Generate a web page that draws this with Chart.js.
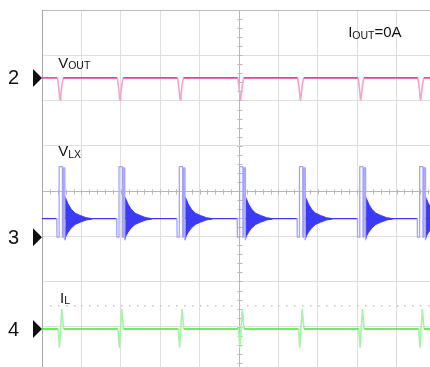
<!DOCTYPE html>
<html>
<head>
<meta charset="utf-8">
<script src="https://cdn.jsdelivr.net/npm/chart.js@4.4.1/dist/chart.umd.min.js"></script>
<style>
  html, body { margin: 0; padding: 0; overflow: hidden; background: #fff; }
  canvas { display: block; }
</style>
</head>
<body>
<canvas id="scope" width="440" height="380"></canvas>
<script>
// Time of each switching burst, in screen divisions
const pulseTimes = [0.46, 1.98, 3.51, 5.04, 6.56, 8.09, 9.61];

// Channel 2: output voltage (divisions), dip around each burst
const voutBase = 2.5;
const voutDipDt = [-0.069, -0.038, -0.010, 0, 0.015, 0.046, 0.081];
const voutDipV = [2.5, 2.3, 2.05, 2.01, 2.1, 2.35, 2.5];

// Channel 3: switch node, two short pulses then ringing
const vlxBase = -0.61;
const vlxEdgeDt = [-0.086, -0.081, -0.025, -0.025, 0.058, 0.058, 0.084, 0.084, 0.119, 0.119, 0.127];
const vlxEdgeV = [-0.61, -1.02, -1.02, 0.54, 0.54, -1.02, -1.02, 0.51, 0.51, -1.08, -0.61];
const ringDt = [0.119, 0.152, 0.203, 0.279, 0.381, 0.508, 0.66, 0.812];
const ringHigh = [-0.13, -0.18, -0.29, -0.40, -0.49, -0.54, -0.59, -0.61];
const ringLow = [-1.08, -0.99, -0.91, -0.82, -0.74, -0.69, -0.64, -0.62];

// Channel 4: inductor current spike
const ilBase = -3.05;
const ilSpikeDt = [-0.051, -0.018, 0.043, 0.089];
const ilSpikeV = [-3.05, -3.45, -2.62, -3.05];

// Ground markers on the left edge
const markerNames = ['2', '3', '4'];
const markerLevels = [2.5, -1.02, -3.05];

function buildTrace(base, dt, vals) {
    const pts = [{ x: 0, y: base }];
    pulseTimes.forEach(t0 => {
        dt.forEach((d, i) => pts.push({ x: t0 + d, y: vals[i] }));
    });
    pts.push({ x: 10, y: base });
    return pts;
}

// fast edges show up faint on the screen
function edgeColor(dark, light) {
    return ctx => Math.abs(ctx.p1.x - ctx.p0.x) < 6 ? light : dark;
}

const PINK = '#ee3d96', PINK_LT = '#f6a3cb';
const BLUE = '#3b3bf6', BLUE_LT = '#a4a4ff';
const GREEN = '#3ee63e', GREEN_LT = '#a6f2a6';

const datasets = [
    {
        data: buildTrace(voutBase, voutDipDt, voutDipV),
        borderColor: PINK, borderWidth: 1.6,
        segment: { borderColor: edgeColor(PINK, PINK_LT) }
    },
    {
        data: buildTrace(vlxBase, vlxEdgeDt, vlxEdgeV),
        borderColor: BLUE, borderWidth: 1.3,
        segment: { borderColor: edgeColor(BLUE, BLUE_LT) }
    },
    {
        data: buildTrace(ilBase, ilSpikeDt, ilSpikeV),
        borderColor: GREEN, borderWidth: 1.6,
        segment: { borderColor: edgeColor(GREEN, GREEN_LT) }
    }
];

// ringing envelope after each pulse, filled between top and bottom
pulseTimes.forEach(t0 => {
    datasets.push({
        data: ringDt.map((d, i) => ({ x: t0 + d, y: ringHigh[i] })),
        borderColor: BLUE, borderWidth: 1, fill: false
    });
    datasets.push({
        data: ringDt.map((d, i) => ({ x: t0 + d, y: ringLow[i] })),
        borderColor: BLUE, borderWidth: 1, fill: '-1',
        backgroundColor: BLUE
    });
});

const FONT = '"Liberation Sans", Arial, sans-serif';

// label with a subscript part, e.g. V + OUT
function subLabel(ctx, x, y, main, sub, rest) {
    ctx.font = '15px ' + FONT;
    ctx.fillText(main, x, y);
    x += ctx.measureText(main).width;
    ctx.font = '10.5px ' + FONT;
    ctx.fillText(sub, x, y + 1.5);
    x += ctx.measureText(sub).width;
    if (rest) {
        ctx.font = '15px ' + FONT;
        ctx.fillText(rest, x, y);
    }
}

const scopeDecor = {
    id: 'scopeDecor',
    beforeDatasetsDraw(chart) {
        const { ctx, scales: { x, y } } = chart;
        ctx.save();
        ctx.strokeStyle = '#b8b8b8';
        ctx.lineWidth = 1;
        ctx.beginPath();
        // minor ticks on the centre cross
        for (let v = 0.2; v < 10; v += 0.2) {
            const px = Math.round(x.getPixelForValue(v)) + 0.5;
            const py = Math.round(y.getPixelForValue(0)) + 0.5;
            ctx.moveTo(px, py - 2);
            ctx.lineTo(px, py + 3);
        }
        for (let v = -4; v < 4; v += 0.2) {
            const py = Math.round(y.getPixelForValue(v)) + 0.5;
            const px = Math.round(x.getPixelForValue(5)) + 0.5;
            ctx.moveTo(px - 2, py);
            ctx.lineTo(px + 3, py);
        }
        ctx.stroke();
        // dotted reference row
        ctx.fillStyle = '#c4c4c4';
        const rowY = Math.round(y.getPixelForValue(-2.52));
        for (let v = 0.2; v < 10.2; v += 0.2) {
            ctx.fillRect(Math.round(x.getPixelForValue(v)), rowY, 1.5, 1.5);
        }
        ctx.restore();
    },
    afterDraw(chart) {
        const { ctx, scales: { x, y }, chartArea } = chart;
        ctx.save();
        ctx.fillStyle = '#111';
        // channel markers
        markerNames.forEach((name, i) => {
            const py = y.getPixelForValue(markerLevels[i]);
            ctx.beginPath();
            ctx.moveTo(chartArea.left, py);
            ctx.lineTo(chartArea.left - 9, py - 9);
            ctx.lineTo(chartArea.left - 9, py + 9);
            ctx.closePath();
            ctx.fill();
            ctx.font = '20px ' + FONT;
            ctx.textBaseline = 'middle';
            ctx.fillText(name, 8, py + 1);
        });
        ctx.textBaseline = 'alphabetic';
        // trace names
        subLabel(ctx, x.getPixelForValue(0.41), y.getPixelForValue(2.72), 'V', 'OUT');
        subLabel(ctx, x.getPixelForValue(0.41), y.getPixelForValue(0.77), 'V', 'LX');
        subLabel(ctx, x.getPixelForValue(0.46), y.getPixelForValue(-2.47), 'I', 'L');
        subLabel(ctx, x.getPixelForValue(7.77), y.getPixelForValue(3.40), 'I', 'OUT', '=0A');
        ctx.restore();
    }
};

new Chart(document.getElementById('scope'), {
    type: 'line',
    data: { datasets },
    options: {
        responsive: false,
        animation: false,
        layout: { padding: { left: 42, top: 10, right: 4, bottom: 8 } },
        plugins: {
            legend: { display: false },
            tooltip: { enabled: false }
        },
        elements: {
            point: { radius: 0 },
            line: { tension: 0, borderJoinStyle: 'round' }
        },
        scales: {
            x: {
                type: 'linear', min: 0, max: 10,
                ticks: { stepSize: 1, display: false },
                grid: {
                    drawTicks: false,
                    color: ctx => ctx.tick.value === 5 ? '#b8b8b8' : (ctx.tick.value === 0 ? '#a8a8a8' : '#dedede')
                },
                border: { display: false }
            },
            y: {
                type: 'linear', min: -4, max: 4,
                ticks: { stepSize: 1, display: false },
                grid: {
                    drawTicks: false,
                    color: ctx => ctx.tick.value === 0 ? '#b8b8b8' : (ctx.tick.value === 4 ? '#bcbcbc' : '#dedede')
                },
                border: { color: '#a8a8a8' }
            }
        }
    },
    plugins: [scopeDecor]
});
</script>
</body>
</html>
